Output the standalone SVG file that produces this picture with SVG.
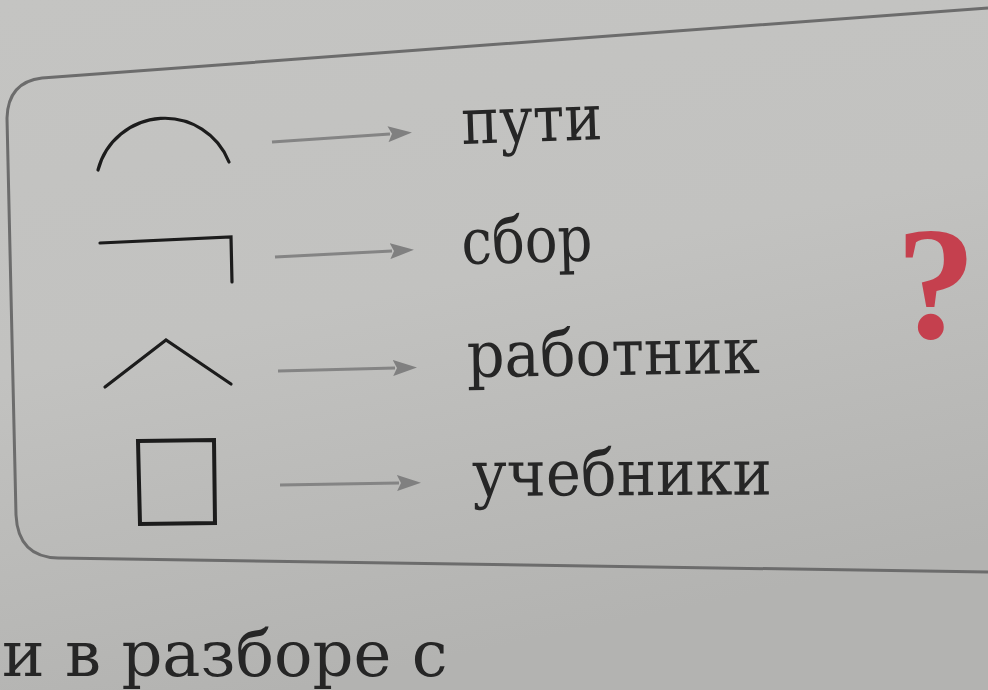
<svg xmlns="http://www.w3.org/2000/svg" width="988" height="690" viewBox="0 0 988 690">
  <defs>
    <linearGradient id="bg" x1="0" y1="0" x2="0.3" y2="1">
      <stop offset="0" stop-color="#c4c4c2"/>
      <stop offset="0.5" stop-color="#c2c2c0"/>
      <stop offset="1" stop-color="#b3b3b1"/>
    </linearGradient>
    <marker id="head" viewBox="0 0 24 16" refX="2" refY="8" markerWidth="24" markerHeight="16" markerUnits="userSpaceOnUse" orient="auto">
      <path d="M0,0 L24,8 L0,16 L4,8 Z" fill="#808080"/>
    </marker>
    <style>
      .sym { fill: none; stroke: #1c1c1c; stroke-width: 3.2; stroke-linecap: round; stroke-linejoin: miter; }
      .arrow { fill: none; stroke: #848484; stroke-width: 3; marker-end: url(#head); }
      .word { font-family: "DejaVu Serif", "Liberation Serif", serif; font-size: 64px; fill: #262626; }
      .frame { fill: none; stroke: #6c6c6c; stroke-width: 3; }
    </style>
  </defs>

  <rect x="0" y="0" width="988" height="690" fill="url(#bg)"/>

  <g id="frame">
    <path class="frame" d="M 988,8 L 42,78 Q 8,82 7,118 L 16,515 Q 18,557 58,558 L 988,572"/>
  </g>

  <g id="sym-arc"><path class="sym" d="M 98,170 A 69 69 0 0 1 229,162"/></g>
  <g id="sym-corner"><path class="sym" d="M 100,243 L 231,237 L 232,282"/></g>
  <g id="sym-caret"><path class="sym" d="M 105,387 L 166,340 L 231,384"/></g>
  <g id="sym-square"><path class="sym" style="stroke-width:4" d="M 138,441 L 214,440 L 215,523 L 140,524 Z"/></g>

  <g id="connectors">
    <path class="arrow" d="M 272,142 L 390,134"/>
    <path class="arrow" d="M 275,257 L 392,251"/>
    <path class="arrow" d="M 278,371 L 395,368"/>
    <path class="arrow" d="M 280,485 L 399,483"/>
  </g>

  <g id="word-puti"><text class="word" x="462" y="144" textLength="141" lengthAdjust="spacingAndGlyphs" transform="rotate(-2 462 144)">пути</text></g>
  <g id="word-sbor"><text class="word" x="462" y="264" textLength="131" lengthAdjust="spacingAndGlyphs" transform="rotate(-1.5 462 264)">сбор</text></g>
  <g id="word-rabotnik"><text class="word" x="467" y="377" textLength="293" lengthAdjust="spacingAndGlyphs" transform="rotate(-0.8 467 377)">работник</text></g>
  <g id="word-uchebniki"><text class="word" x="472" y="496" textLength="300" lengthAdjust="spacingAndGlyphs" transform="rotate(-0.3 472 496)">учебники</text></g>

  <g id="question">
    <text x="936" y="338" text-anchor="middle" font-family="'Liberation Serif', 'DejaVu Serif', serif" font-weight="bold" font-size="160" fill="#c5404e">?</text>
  </g>

  <g id="bottom-text">
    <text class="word" x="2" y="676" font-size="40">и в разборе с</text>
  </g>
</svg>
